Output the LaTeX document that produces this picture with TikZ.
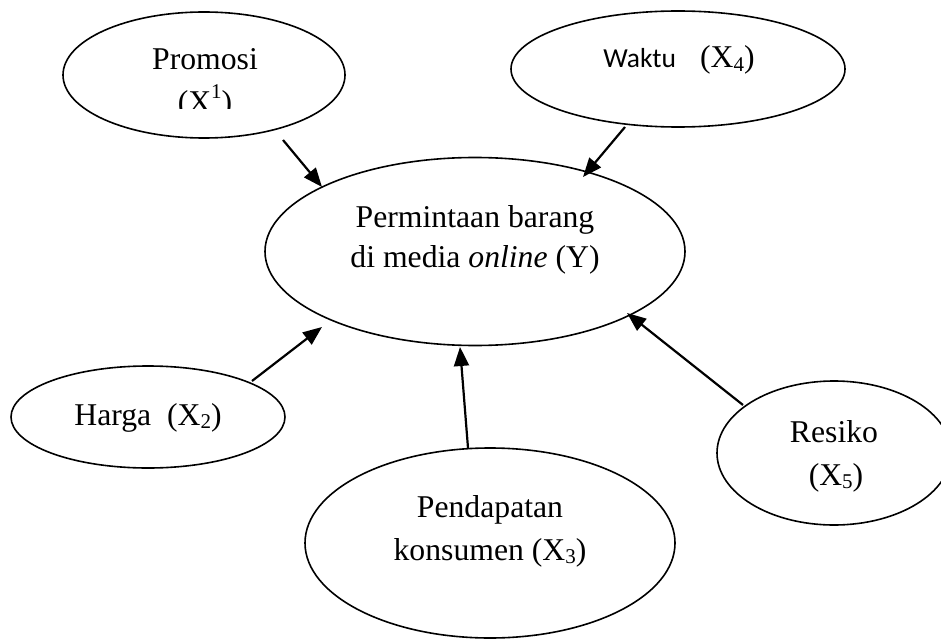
\documentclass[tikz,border=0pt]{standalone}
\usepackage{fontspec}
\setmainfont{Liberation Serif}
\newfontfamily\calibfont{Carlito}
\usetikzlibrary{shapes.geometric,arrows.meta}
\newcommand\mysub[1]{\raisebox{-0.10em}{\fontsize{21}{21}\selectfont #1}}
\newcommand\mysup[1]{\raisebox{0.45em}{\fontsize{21}{21}\selectfont #1}}
\begin{document}
\begin{tikzpicture}[x=1pt,y=-1pt,
  ell/.style={draw, ellipse, line width=1.6pt, inner sep=0pt},
  txt/.style={anchor=base, inner sep=0pt, font=\fontsize{31.7}{43}\selectfont},
  arr/.style={line width=2.2pt, -{Triangle[length=19pt,width=15pt]}}]
\useasboundingbox (0,0) rectangle (941,639);

% ellipses
\node[ell, minimum width=282pt, minimum height=126pt] (prom) at (204,75) {};
\node[ell, minimum width=334pt, minimum height=116pt] (wakt) at (678,69) {};
\node[ell, minimum width=420pt, minimum height=188pt] (perm) at (475,251.5) {};
\node[ell, minimum width=274pt, minimum height=102pt] (harg) at (148,417) {};
\node[ell, minimum width=234pt, minimum height=144pt] (resi) at (834,453) {};
\node[ell, minimum width=370pt, minimum height=190pt] (pend) at (490,543) {};

% texts
\node[txt] (promA) at (205,70) {Promosi};
\begin{scope}
  \clip (0,0) rectangle (941,109);
  \node[txt] (promB) at (205,113) {(X\mysup{1})};
\end{scope}
\node[txt] (waktT) at (679,68) {{\calibfont\fontsize{27.5}{33}\selectfont Waktu}\hspace{24pt}(X\mysub{4})};
\node[txt] (permA) at (475,227) {Permintaan barang};
\node[txt] (permB) at (475,267) {di media \textit{online} (Y)};
\node[txt] (hargT) at (148,425) {Harga\ \ (X\mysub{2})};
\node[txt] (resiA) at (834,442) {Resiko};
\node[txt] (resiB) at (836,485) {(X\mysub{5})};
\node[txt] (pendA) at (490,517) {Pendapatan};
\node[txt] (pendB) at (490,560) {konsumen (X\mysub{3})};

% arrow end points
\coordinate (ps) at (283,140); \coordinate (pt) at (322,187);
\coordinate (ws) at (625,127); \coordinate (wt) at (583,177);
\coordinate (hs) at (252,381); \coordinate (ht) at (322,327);
\coordinate (ds) at (468,448); \coordinate (dt) at (460,347);
\coordinate (rs) at (743,405); \coordinate (rt) at (627,313);

\draw[arr] (ps) -- (pt);
\draw[arr] (ws) -- (wt);
\draw[arr] (hs) -- (ht);
\draw[arr] (ds) -- (dt);
\draw[arr] (rs) -- (rt);
\end{tikzpicture}
\end{document}
